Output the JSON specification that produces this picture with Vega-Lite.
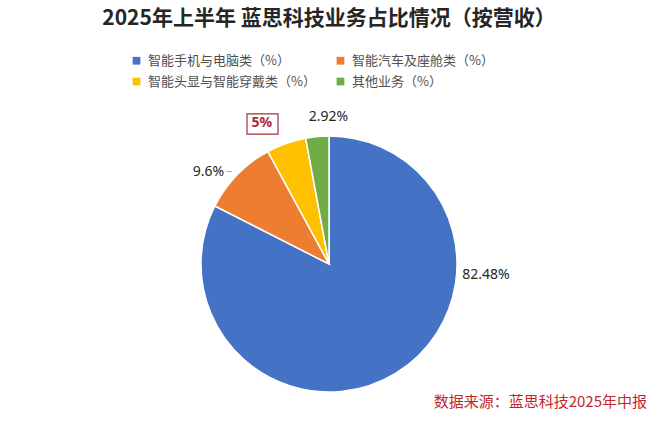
{
  "$schema": "https://vega.github.io/schema/vega-lite/v6.json",
  "autosize": {"type": "pad"},
  "width": 658,
  "height": 326,
  "padding": {"left": 0, "right": 2, "top": 8, "bottom": 0},
  "background": "white",
  "title": {
    "text": "2025年上半年 蓝思科技业务占比情况（按营收）",
    "font": "Noto Sans CJK SC",
    "fontSize": 21,
    "fontWeight": "bold",
    "color": "#262626",
    "anchor": "middle",
    "offset": 25
  },
  "data": {
    "values": [
      {"rank": 1, "segment": "智能手机与电脑类（%）", "share": 82.48, "label": "82.48%"},
      {"rank": 2, "segment": "智能汽车及座舱类（%）", "share": 9.6, "label": "9.6%"},
      {"rank": 3, "segment": "智能头显与智能穿戴类（%）", "share": 5, "label": "5%"},
      {"rank": 4, "segment": "其他业务（%）", "share": 2.92, "label": "2.92%"}
    ]
  },
  "layer": [
    {
      "mark": {"type": "arc", "outerRadius": 128, "stroke": "white", "strokeWidth": 1.5},
      "encoding": {
        "theta": {"field": "share", "type": "quantitative", "stack": true},
        "order": {"field": "rank"},
        "color": {
          "field": "segment",
          "type": "nominal",
          "sort": ["智能手机与电脑类（%）", "智能汽车及座舱类（%）", "智能头显与智能穿戴类（%）", "其他业务（%）"],
          "scale": {
            "domain": ["智能手机与电脑类（%）", "智能汽车及座舱类（%）", "智能头显与智能穿戴类（%）", "其他业务（%）"],
            "range": ["#4472C4", "#ED7D31", "#FFC000", "#70AD47"]
          },
          "legend": {
            "orient": "none",
            "direction": "horizontal",
            "legendX": 130,
            "legendY": -47,
            "columns": 2,
            "columnPadding": 18,
            "rowPadding": 7,
            "padding": 0,
            "title": null,
            "symbolType": "square",
            "symbolSize": 60,
            "symbolStrokeWidth": 0,
            "labelFont": "Noto Sans CJK SC",
            "labelFontSize": 13,
            "labelColor": "#505050",
            "labelOffset": 5,
            "labelLimit": 300
          }
        }
      }
    },
    {
      "mark": {"type": "text", "radius": 0, "dx": 157, "dy": 11, "font": "Noto Sans", "fontSize": 14, "color": "#262626"},
      "encoding": {
        "theta": {"field": "share", "type": "quantitative", "stack": true},
        "order": {"field": "rank"},
        "text": {"condition": {"test": "datum.rank === 1", "field": "label"}, "value": ""}
      }
    },
    {
      "mark": {"type": "text", "radius": 135, "align": "right", "dx": -8, "dy": 2, "font": "Noto Sans", "fontSize": 14, "color": "#262626"},
      "encoding": {
        "theta": {"field": "share", "type": "quantitative", "stack": true},
        "order": {"field": "rank"},
        "text": {"condition": {"test": "datum.rank === 2", "field": "label"}, "value": ""}
      }
    },
    {
      "mark": {"type": "text", "radius": 135, "dx": -3, "dy": 1, "font": "Noto Sans", "fontSize": 12, "color": "#A6A6A6"},
      "encoding": {
        "theta": {"field": "share", "type": "quantitative", "stack": true},
        "order": {"field": "rank"},
        "text": {"condition": {"test": "datum.rank === 2", "value": "–"}, "value": ""}
      }
    },
    {
      "mark": {"type": "text", "radius": 150, "dx": -17, "dy": 0, "font": "Noto Sans", "fontSize": 14, "fontWeight": "bold", "color": "#B0283A"},
      "encoding": {
        "theta": {"field": "share", "type": "quantitative", "stack": true},
        "order": {"field": "rank"},
        "text": {"condition": {"test": "datum.rank === 3", "field": "label"}, "value": ""}
      }
    },
    {
      "mark": {"type": "text", "radius": 148, "dx": 13, "dy": 0, "font": "Noto Sans", "fontSize": 14, "color": "#262626"},
      "encoding": {
        "theta": {"field": "share", "type": "quantitative", "stack": true},
        "order": {"field": "rank"},
        "text": {"condition": {"test": "datum.rank === 4", "field": "label"}, "value": ""}
      }
    },
    {
      "data": {"values": [{"note": "5%"}]},
      "mark": {
        "type": "point",
        "shape": "M-1,-0.65L1,-0.65L1,0.65L-1,0.65Z",
        "size": 961,
        "filled": false,
        "stroke": "#A0303A",
        "strokeWidth": 1.2,
        "opacity": 1,
        "x": {"expr": "width / 2 - 66.5"},
        "y": {"expr": "height / 2 - 140"}
      },
      "encoding": {}
    },
    {
      "data": {"values": [{"source": "数据来源：蓝思科技2025年中报"}]},
      "mark": {
        "type": "text",
        "align": "right",
        "baseline": "middle",
        "font": "Noto Sans CJK SC",
        "fontSize": 15,
        "color": "#C0282D",
        "x": {"expr": "width - 11"},
        "y": {"expr": "height - 25"}
      },
      "encoding": {"text": {"field": "source"}}
    }
  ],
  "config": {"view": {"stroke": null}}
}
